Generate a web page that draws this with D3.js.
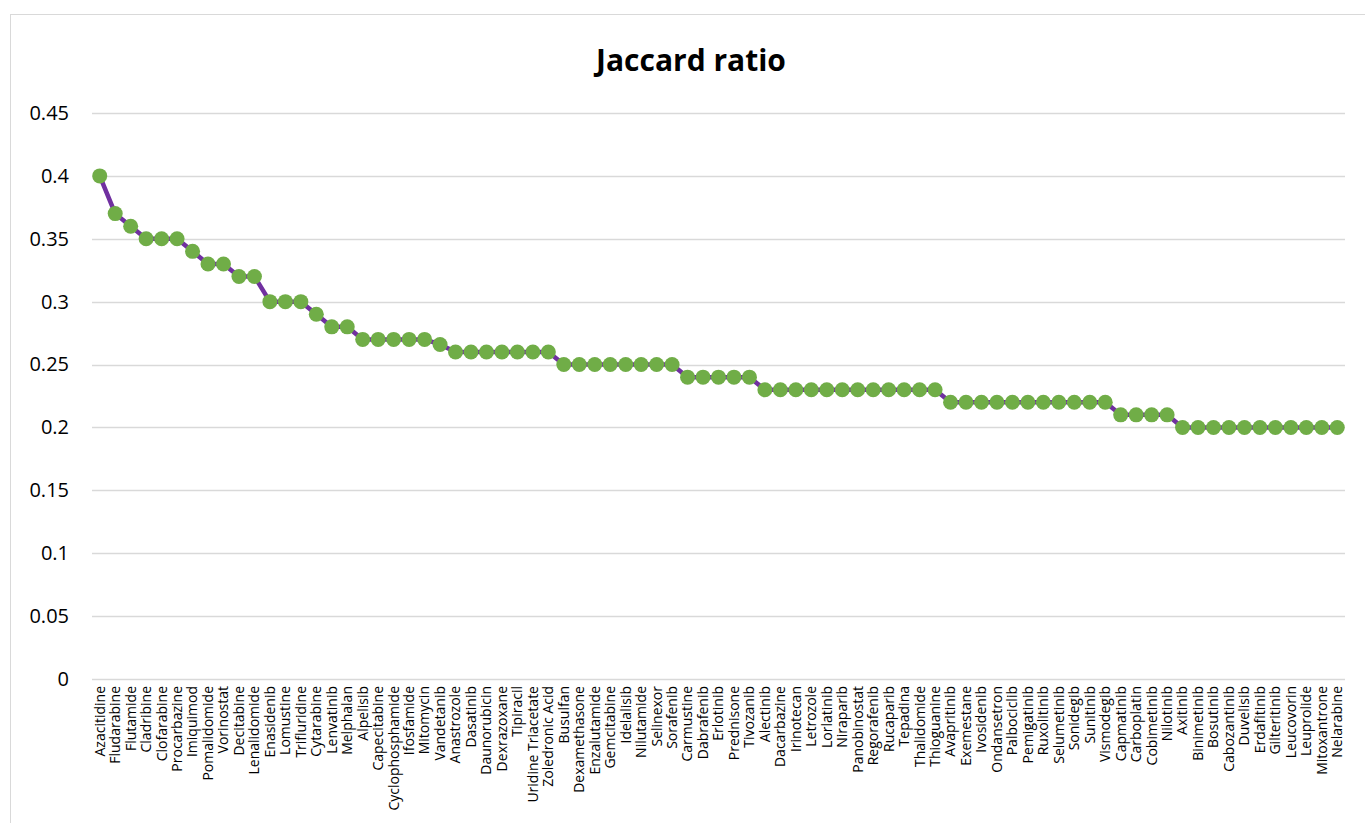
<!DOCTYPE html>
<html>
<head>
<meta charset="utf-8">
<script src="https://cdn.jsdelivr.net/npm/d3@7"></script>
<style>
  html, body { margin: 0; padding: 0; background: #fff; }
  svg { display: block; }
</style>
</head>
<body>
<svg id="chart" width="1365" height="823"></svg>
<script>
// Drug names along the category axis
const drugs = [
  "Azacitidine", "Fludarabine", "Flutamide", "Cladribine", "Clofarabine", "Procarbazine",
  "Imiquimod", "Pomalidomide", "Vorinostat", "Decitabine", "Lenalidomide", "Enasidenib",
  "Lomustine", "Trifluridine", "Cytarabine", "Lenvatinib", "Melphalan", "Alpelisib",
  "Capecitabine", "Cyclophosphamide", "Ifosfamide", "Mitomycin", "Vandetanib", "Anastrozole",
  "Dasatinib", "Daunorubicin", "Dexrazoxane", "Tipiracil", "Uridine Triacetate", "Zoledronic Acid",
  "Busulfan", "Dexamethasone", "Enzalutamide", "Gemcitabine", "Idelalisib", "Nilutamide",
  "Selinexor", "Sorafenib", "Carmustine", "Dabrafenib", "Erlotinib", "Prednisone",
  "Tivozanib", "Alectinib", "Dacarbazine", "Irinotecan", "Letrozole", "Lorlatinib",
  "Niraparib", "Panobinostat", "Regorafenib", "Rucaparib", "Tepadina", "Thalidomide",
  "Thioguanine", "Avapritinib", "Exemestane", "Ivosidenib", "Ondansetron", "Palbociclib",
  "Pemigatinib", "Ruxolitinib", "Selumetinib", "Sonidegib", "Sunitinib", "Vismodegib",
  "Capmatinib", "Carboplatin", "Cobimetinib", "Nilotinib", "Axitinib", "Binimetinib",
  "Bosutinib", "Cabozantinib", "Duvelisib", "Erdafitinib", "Gilteritinib", "Leucovorin",
  "Leuprolide", "Mitoxantrone", "Nelarabine"
];

// Jaccard ratio per drug
const jaccard = [
  0.40, 0.37, 0.36, 0.35, 0.35, 0.35,
  0.34, 0.33, 0.33, 0.32, 0.32, 0.30,
  0.30, 0.30, 0.29, 0.28, 0.28, 0.27,
  0.27, 0.27, 0.27, 0.27, 0.266, 0.26,
  0.26, 0.26, 0.26, 0.26, 0.26, 0.26,
  0.25, 0.25, 0.25, 0.25, 0.25, 0.25,
  0.25, 0.25, 0.24, 0.24, 0.24, 0.24,
  0.24, 0.23, 0.23, 0.23, 0.23, 0.23,
  0.23, 0.23, 0.23, 0.23, 0.23, 0.23,
  0.23, 0.22, 0.22, 0.22, 0.22, 0.22,
  0.22, 0.22, 0.22, 0.22, 0.22, 0.22,
  0.21, 0.21, 0.21, 0.21, 0.20, 0.20,
  0.20, 0.20, 0.20, 0.20, 0.20, 0.20,
  0.20, 0.20, 0.20
];

// Value axis ticks
const yTicks = [0, 0.05, 0.1, 0.15, 0.2, 0.25, 0.3, 0.35, 0.4, 0.45];
const titleText = "Jaccard ratio";

const svg = d3.select("#chart");
const font = "'Open Sans', 'Noto Sans', sans-serif";

// Chart frame
svg.append("rect")
  .attr("x", 10.5).attr("y", 14.5)
  .attr("width", 1365).attr("height", 830)
  .attr("fill", "#fff").attr("stroke", "#d9d9d9").attr("stroke-width", 1);

const plot = { left: 92, right: 1345, top: 113, bottom: 679 };

const x = d3.scaleBand().domain(drugs).range([plot.left, plot.right]);
const y = d3.scaleLinear().domain([0, 0.45]).range([plot.bottom, plot.top]);

// Title
svg.append("text")
  .attr("x", 691).attr("y", 71)
  .attr("text-anchor", "middle")
  .attr("font-family", font).attr("font-size", 30).attr("font-weight", "bold")
  .attr("fill", "#000")
  .text(titleText);

// Horizontal gridlines
svg.append("g")
  .selectAll("line")
  .data(yTicks)
  .join("line")
  .attr("x1", plot.left).attr("x2", plot.right)
  .attr("y1", d => Math.round(y(d)) + 0.5).attr("y2", d => Math.round(y(d)) + 0.5)
  .attr("stroke", "#d9d9d9").attr("stroke-width", 1.5);

// Y axis labels
const yAxis = d3.axisLeft(y).tickValues(yTicks).tickSize(0).tickPadding(23)
  .tickFormat(d => d3.format("")(+d.toFixed(2)));
svg.append("g")
  .attr("transform", `translate(${plot.left},0)`)
  .call(yAxis)
  .call(g => g.select(".domain").remove())
  .call(g => g.selectAll("text")
    .attr("font-family", font).attr("font-size", 20).attr("fill", "#000"));

// X axis labels, rotated
const xAxis = d3.axisBottom(x).tickSize(0).tickPadding(0);
svg.append("g")
  .attr("transform", `translate(0,${plot.bottom})`)
  .call(xAxis)
  .call(g => g.select(".domain").remove())
  .call(g => g.selectAll("text")
    .attr("font-family", font).attr("font-size", 14).attr("fill", "#000")
    .attr("text-anchor", "end")
    .attr("dy", "0.35em")
    .attr("transform", "translate(0,7) rotate(-90)")
    .attr("x", 0).attr("y", 0));

// Series line
const line = d3.line()
  .x((d, i) => x(drugs[i]) + x.bandwidth() / 2)
  .y(d => y(d));
svg.append("path")
  .datum(jaccard)
  .attr("d", line)
  .attr("fill", "none")
  .attr("stroke", "#7030a0")
  .attr("stroke-width", 4.5)
  .attr("stroke-linejoin", "round");

// Markers
svg.append("g")
  .selectAll("circle")
  .data(jaccard)
  .join("circle")
  .attr("cx", (d, i) => x(drugs[i]) + x.bandwidth() / 2)
  .attr("cy", d => y(d))
  .attr("r", 7.5)
  .attr("fill", "#70ad47");
</script>
</body>
</html>
